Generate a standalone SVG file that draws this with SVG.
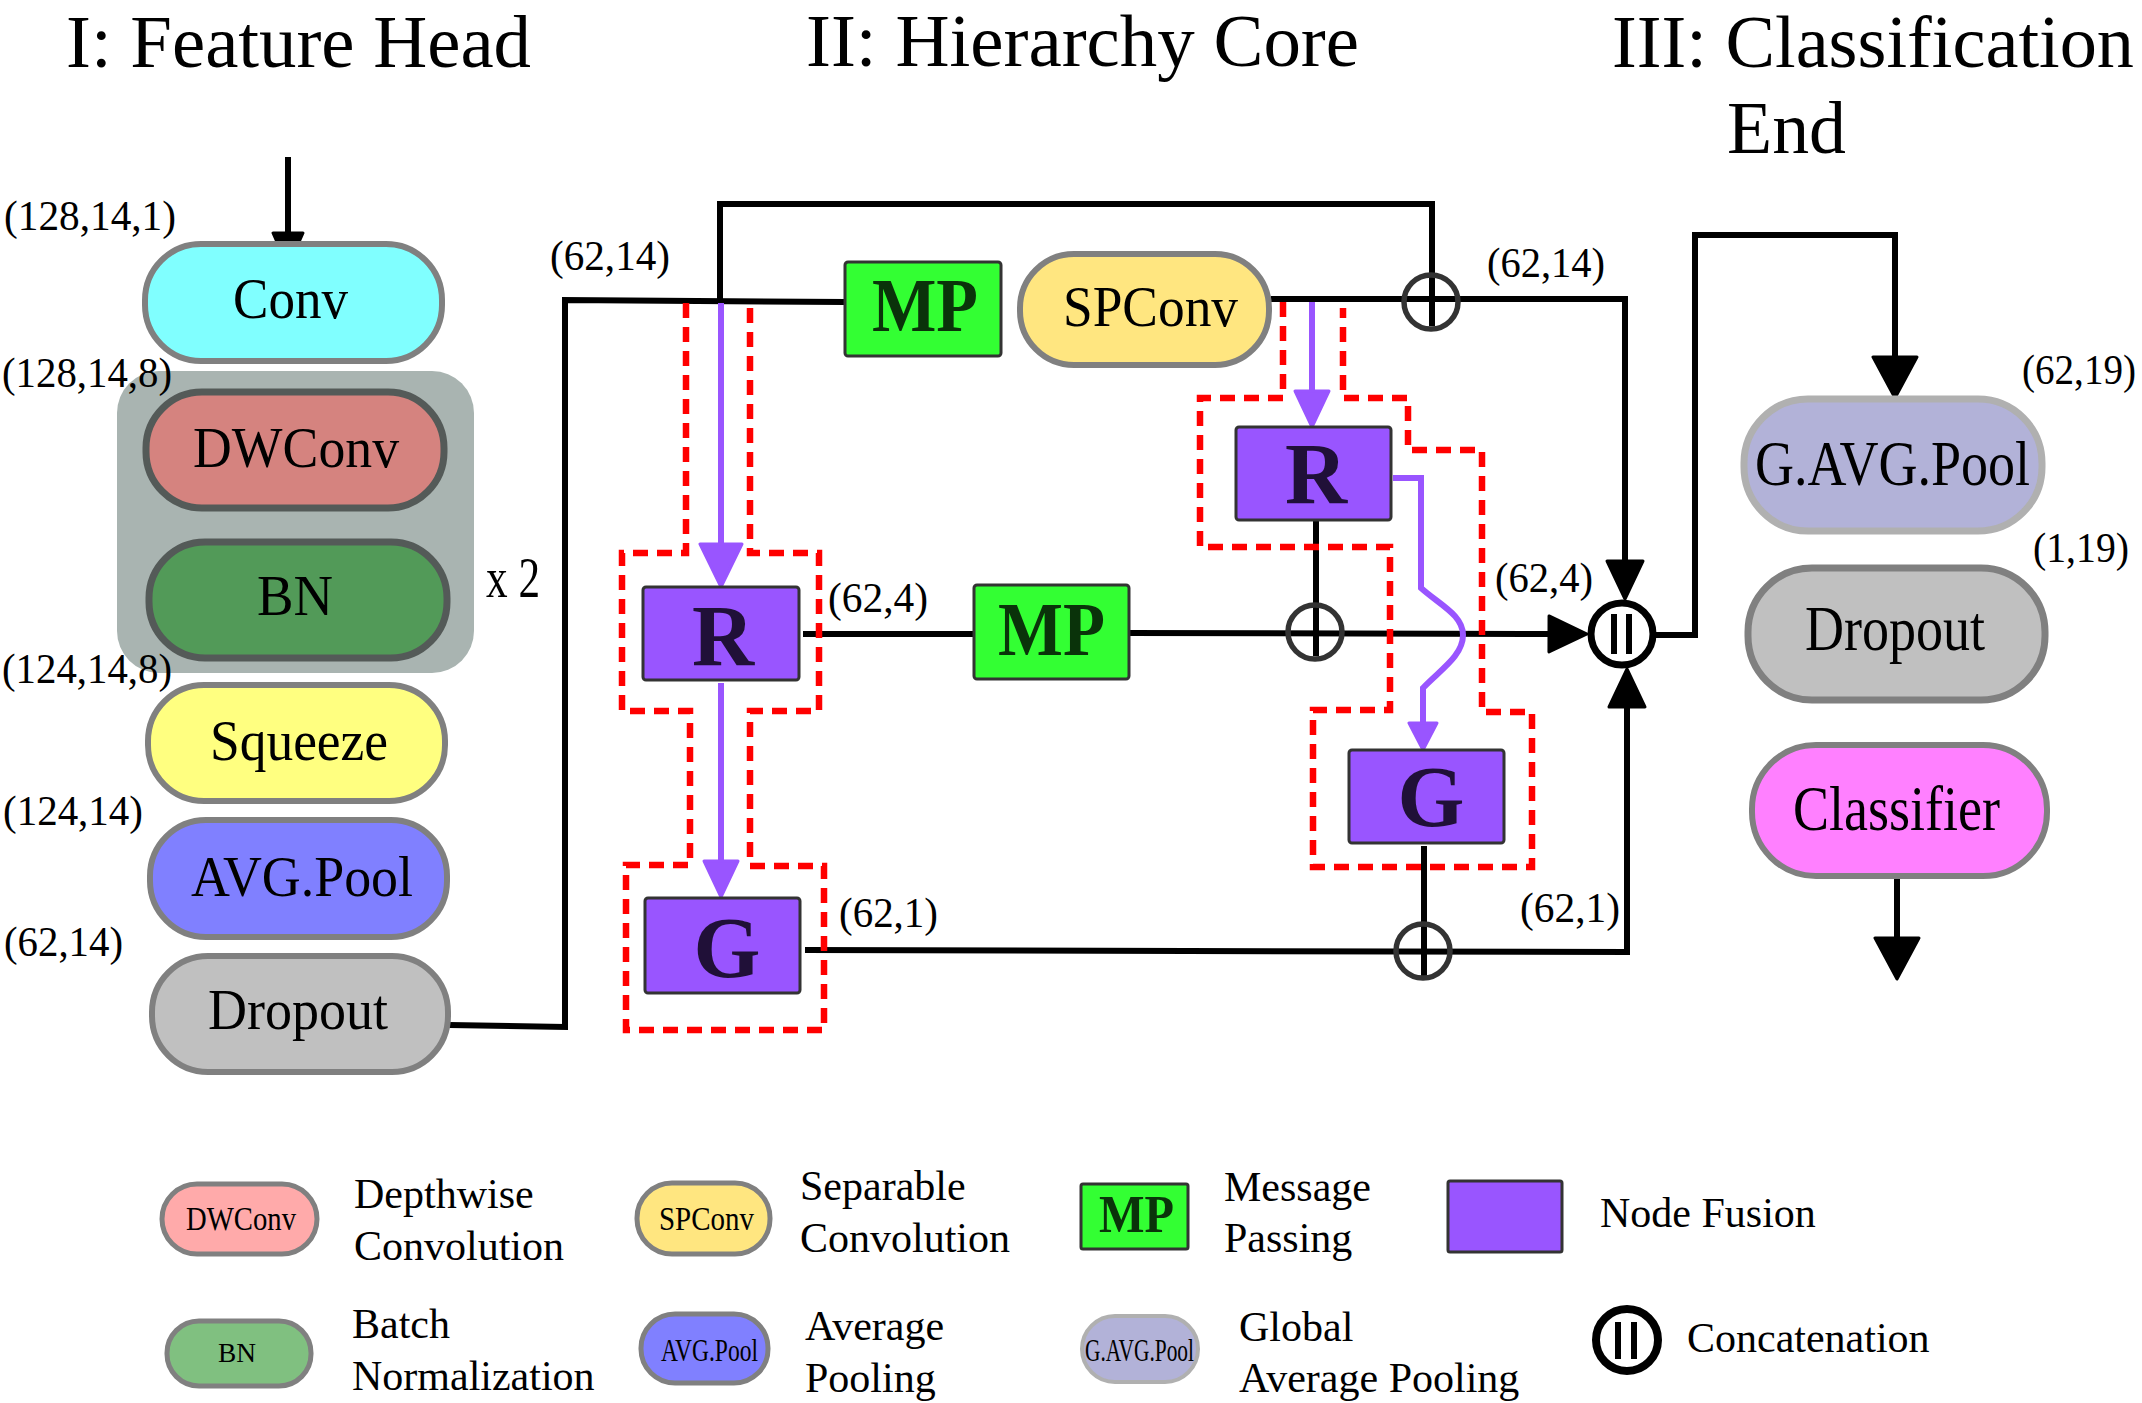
<svg xmlns="http://www.w3.org/2000/svg" width="2142" height="1403" viewBox="0 0 2142 1403">
<style>
text { font-family: "Liberation Serif", "Times New Roman", serif; fill: #000; }
.title { font-size: 74px; }
.dim { font-size: 42px; }
.nl { font-size: 57px; }
.nr { font-size: 63px; }
.leg { font-size: 42px; }
.pill { stroke: #808080; stroke-width: 6; }
.pilld { stroke: #545a58; stroke-width: 7; }
.conn { fill: none; stroke: #000; stroke-width: 6; }
.pur { fill: none; stroke: #9955ff; stroke-width: 6; }
.red { fill: none; stroke: #ff0000; stroke-width: 6.5; stroke-dasharray: 15 9; }
.nf { fill: #9955ff; stroke: #333; stroke-width: 3; }
.mp { fill: #33ff33; stroke: #333; stroke-width: 3; }
.plus { fill: none; stroke: #333; stroke-width: 5.5; }
.mpt { font-weight: bold; fill: #0a330a; }
.nft { font-weight: bold; font-size: 86px; fill: #201038; }
</style>
<defs>
<marker id="ak" markerUnits="userSpaceOnUse" viewBox="0 0 44 40" markerWidth="44" markerHeight="40" refX="33" refY="20" orient="auto"><path d="M2,2 L40,20 L2,38 Z" fill="#000" stroke="#000" stroke-width="3" stroke-linejoin="round"/></marker>
<marker id="akS" markerUnits="userSpaceOnUse" viewBox="0 0 40 34" markerWidth="40" markerHeight="34" refX="30" refY="17" orient="auto"><path d="M2,2 L36,17 L2,32 Z" fill="#000" stroke="#000" stroke-width="3" stroke-linejoin="round"/></marker>
<marker id="akL" markerUnits="userSpaceOnUse" viewBox="0 0 48 48" markerWidth="48" markerHeight="48" refX="37" refY="24" orient="auto"><path d="M2,2 L43,24 L2,46 Z" fill="#000" stroke="#000" stroke-width="3" stroke-linejoin="round"/></marker>
<marker id="apL" markerUnits="userSpaceOnUse" viewBox="0 0 48 46" markerWidth="48" markerHeight="46" refX="39" refY="23" orient="auto"><path d="M2,2 L45,23 L2,44 Z" fill="#9955ff" stroke="#9955ff" stroke-width="3" stroke-linejoin="round"/></marker>
<marker id="ap" markerUnits="userSpaceOnUse" viewBox="0 0 40 38" markerWidth="40" markerHeight="38" refX="32" refY="19" orient="auto"><path d="M2,2 L38,19 L2,36 Z" fill="#9955ff" stroke="#9955ff" stroke-width="3" stroke-linejoin="round"/></marker>
<marker id="apS" markerUnits="userSpaceOnUse" viewBox="0 0 32 32" markerWidth="32" markerHeight="32" refX="23" refY="16" orient="auto"><path d="M2,2 L29,16 L2,30 Z" fill="#9955ff" stroke="#9955ff" stroke-width="3" stroke-linejoin="round"/></marker>
</defs>
<rect width="2142" height="1403" fill="#fff"/>

<g id="titles">
<text class="title" x="66" y="67" textLength="465" lengthAdjust="spacingAndGlyphs">I: Feature Head</text>
<text class="title" x="806" y="66" textLength="553" lengthAdjust="spacingAndGlyphs">II: Hierarchy Core</text>
<text class="title" x="1612" y="67" textLength="522" lengthAdjust="spacingAndGlyphs">III: Classification</text>
<text class="title" x="1727" y="153" textLength="119" lengthAdjust="spacingAndGlyphs">End</text>
</g>

<g id="connectors">
<path class="conn" d="M288,157 V261" marker-end="url(#akS)"/>
<path class="conn" d="M449,1025 L565,1027 V300 L846,302"/>
<path class="conn" d="M720,301 V204 H1432 V326"/>
<path class="conn" d="M1271,299 H1625 V592" marker-end="url(#ak)"/>
<path class="conn" d="M803,634 H973"/>
<path class="conn" d="M1129,633 L1580,634" marker-end="url(#ak)"/>
<path class="conn" d="M1316,521 V656"/>
<path class="conn" d="M805,950 L1627,952 V676" marker-end="url(#ak)"/>
<path class="conn" d="M1424,846 V976"/>
<path class="conn" d="M1655,635 H1695 V235 H1895 V392" marker-end="url(#akL)"/>
<path class="conn" d="M1897,876 V973" marker-end="url(#akL)"/>
</g>

<g id="fusion-regions">
<path class="red" d="M686,303 V553 H622 V711 H690 V865 H626 V1030 H824 V866 H750 V711 H819 V553 H750 V308"/>
<path class="red" d="M1283,302 V398 H1200 V547 H1390 V710 H1313 V867 H1532 V712 H1482 V450 H1408 V398 H1343 V308"/>
</g>

<g id="fusion-flows">
<path class="pur" d="M721,303 V581" marker-end="url(#apL)"/>
<path class="pur" d="M721,683 V891" marker-end="url(#ap)"/>
<path class="pur" d="M1312,302 V421" marker-end="url(#ap)"/>
<path class="pur" d="M1393,478 H1421 V588 C1440,605 1463,615 1463,635 C1463,656 1440,670 1423,688 V744" marker-end="url(#apS)"/>
</g>

<g id="repeat-block">
<rect x="117" y="371" width="357" height="302" rx="42" fill="#a9b4b1"/>
<text x="486" y="597" style="font-size:56px" textLength="54" lengthAdjust="spacingAndGlyphs">x 2</text>
</g>

<g id="node-conv">
<rect class="pill" x="145" y="244" width="297" height="117" rx="56" fill="#80ffff"/>
<text class="nl" x="233" y="318" textLength="115" lengthAdjust="spacingAndGlyphs">Conv</text>
</g>
<g id="node-dwconv">
<rect class="pilld" x="146" y="392" width="298" height="116" rx="56" fill="#d5837f"/>
<text class="nl" x="193" y="467" textLength="206" lengthAdjust="spacingAndGlyphs">DWConv</text>
</g>
<g id="node-bn">
<rect class="pilld" x="149" y="542" width="298" height="116" rx="56" fill="#529a58"/>
<text class="nl" x="257" y="615" textLength="76" lengthAdjust="spacingAndGlyphs">BN</text>
</g>
<g id="node-squeeze">
<rect class="pill" x="148" y="685" width="297" height="116" rx="56" fill="#ffff80"/>
<text class="nl" x="210" y="760" textLength="178" lengthAdjust="spacingAndGlyphs">Squeeze</text>
</g>
<g id="node-avgpool">
<rect class="pill" x="150" y="820" width="297" height="117" rx="56" fill="#8080ff"/>
<text class="nl" x="191" y="896" textLength="222" lengthAdjust="spacingAndGlyphs">AVG.Pool</text>
</g>
<g id="node-dropout1">
<rect class="pill" x="152" y="956" width="296" height="116" rx="56" fill="#c0c0c0"/>
<text class="nl" x="208" y="1029" textLength="180" lengthAdjust="spacingAndGlyphs">Dropout</text>
</g>

<g id="node-mp1">
<rect class="mp" x="845" y="262" width="156" height="94" rx="3"/>
<text class="mpt" x="872" y="331" style="font-size:76px" textLength="106" lengthAdjust="spacingAndGlyphs">MP</text>
</g>
<g id="node-spconv">
<rect class="pill" x="1020" y="254" width="249" height="111" rx="54" fill="#ffe680"/>
<text class="nl" x="1063" y="326" style="font-size:58px" textLength="175" lengthAdjust="spacingAndGlyphs">SPConv</text>
</g>
<g id="node-mp2">
<rect class="mp" x="974" y="585" width="155" height="94" rx="3"/>
<text class="mpt" x="998" y="655" style="font-size:76px" textLength="107" lengthAdjust="spacingAndGlyphs">MP</text>
</g>

<g id="node-r1">
<rect class="nf" x="643" y="587" width="156" height="93" rx="3"/>
<text class="nft" x="723" y="665" text-anchor="middle">R</text>
</g>
<g id="node-g1">
<rect class="nf" x="645" y="898" width="155" height="95" rx="3"/>
<text class="nft" x="727" y="977" text-anchor="middle">G</text>
</g>
<g id="node-r2">
<rect class="nf" x="1236" y="427" width="155" height="93" rx="3"/>
<text class="nft" x="1316" y="503" text-anchor="middle">R</text>
</g>
<g id="node-g2">
<rect class="nf" x="1349" y="750" width="155" height="93" rx="3"/>
<text class="nft" x="1431" y="826" text-anchor="middle">G</text>
</g>

<g id="add-top"><circle class="plus" cx="1431" cy="302" r="27"/></g>
<g id="add-mid"><circle class="plus" cx="1315" cy="632" r="27"/></g>
<g id="add-bottom"><circle class="plus" cx="1423" cy="951" r="27"/></g>

<g id="concat">
<circle cx="1622" cy="634" r="31" fill="#fff" stroke="#000" stroke-width="7"/>
<rect x="1611" y="614" width="6" height="40" fill="#000"/>
<rect x="1626" y="614" width="6" height="40" fill="#000"/>
</g>

<g id="node-gavgpool">
<rect x="1744" y="399" width="298" height="132" rx="64" fill="#b2b2d8" stroke="#b0b0b0" stroke-width="7"/>
<text class="nr" x="1755" y="485" textLength="275" lengthAdjust="spacingAndGlyphs">G.AVG.Pool</text>
</g>
<g id="node-dropout2">
<rect class="pill" x="1748" y="568" width="297" height="132" rx="64" fill="#c0c0c0" style="stroke-width:7"/>
<text class="nr" x="1805" y="650" textLength="180" lengthAdjust="spacingAndGlyphs">Dropout</text>
</g>
<g id="node-classifier">
<rect class="pill" x="1752" y="745" width="295" height="131" rx="64" fill="#ff80ff"/>
<text class="nr" x="1793" y="830" textLength="207" lengthAdjust="spacingAndGlyphs">Classifier</text>
</g>

<g id="dims">
<text class="dim" x="4" y="230" textLength="172" lengthAdjust="spacingAndGlyphs">(128,14,1)</text>
<text class="dim" x="2" y="387" textLength="170" lengthAdjust="spacingAndGlyphs">(128,14,8)</text>
<text class="dim" x="2" y="683" textLength="170" lengthAdjust="spacingAndGlyphs">(124,14,8)</text>
<text class="dim" x="3" y="825" textLength="140" lengthAdjust="spacingAndGlyphs">(124,14)</text>
<text class="dim" x="4" y="956" textLength="119" lengthAdjust="spacingAndGlyphs">(62,14)</text>
<text class="dim" x="550" y="270" textLength="120" lengthAdjust="spacingAndGlyphs">(62,14)</text>
<text class="dim" x="1487" y="277" textLength="118" lengthAdjust="spacingAndGlyphs">(62,14)</text>
<text class="dim" x="828" y="612" textLength="100" lengthAdjust="spacingAndGlyphs">(62,4)</text>
<text class="dim" x="1495" y="592" textLength="98" lengthAdjust="spacingAndGlyphs">(62,4)</text>
<text class="dim" x="839" y="927" textLength="99" lengthAdjust="spacingAndGlyphs">(62,1)</text>
<text class="dim" x="1520" y="922" textLength="100" lengthAdjust="spacingAndGlyphs">(62,1)</text>
<text class="dim" x="2022" y="384" textLength="114" lengthAdjust="spacingAndGlyphs">(62,19)</text>
<text class="dim" x="2033" y="562" textLength="96" lengthAdjust="spacingAndGlyphs">(1,19)</text>
</g>

<g id="legend">
<g id="leg-dwconv">
<rect x="162" y="1184" width="155" height="70" rx="35" fill="#ffaaaa" stroke="#808080" stroke-width="5"/>
<text x="186" y="1230" style="font-size:33px" textLength="110" lengthAdjust="spacingAndGlyphs">DWConv</text>
<text class="leg" x="354" y="1208">Depthwise</text>
<text class="leg" x="354" y="1260">Convolution</text>
</g>
<g id="leg-spconv">
<rect x="637" y="1183" width="133" height="71" rx="35" fill="#ffe680" stroke="#808080" stroke-width="5"/>
<text x="659" y="1230" style="font-size:33px" textLength="95" lengthAdjust="spacingAndGlyphs">SPConv</text>
<text class="leg" x="800" y="1200">Separable</text>
<text class="leg" x="800" y="1252">Convolution</text>
</g>
<g id="leg-mp">
<rect class="mp" x="1081" y="1184" width="107" height="65" rx="2"/>
<text class="mpt" x="1099" y="1232" style="font-size:52px" textLength="75" lengthAdjust="spacingAndGlyphs">MP</text>
<text class="leg" x="1224" y="1201">Message</text>
<text class="leg" x="1224" y="1252">Passing</text>
</g>
<g id="leg-nodefusion">
<rect class="nf" x="1448" y="1181" width="114" height="71" rx="2"/>
<text class="leg" x="1600" y="1227">Node Fusion</text>
</g>
<g id="leg-bn">
<rect x="167" y="1321" width="144" height="65" rx="32" fill="#80c080" stroke="#808080" stroke-width="5"/>
<text x="218" y="1362" style="font-size:28px" textLength="38" lengthAdjust="spacingAndGlyphs">BN</text>
<text class="leg" x="352" y="1338">Batch</text>
<text class="leg" x="352" y="1390">Normalization</text>
</g>
<g id="leg-avgpool">
<rect x="641" y="1314" width="127" height="69" rx="34" fill="#8080ff" stroke="#808080" stroke-width="5"/>
<text x="661" y="1361" style="font-size:32px" textLength="97" lengthAdjust="spacingAndGlyphs">AVG.Pool</text>
<text class="leg" x="805" y="1340">Average</text>
<text class="leg" x="805" y="1392">Pooling</text>
</g>
<g id="leg-gavgpool">
<rect x="1082" y="1316" width="116" height="66" rx="33" fill="#b2b2d8" stroke="#b0b0b0" stroke-width="4"/>
<text x="1085" y="1361" style="font-size:31px" textLength="109" lengthAdjust="spacingAndGlyphs">G.AVG.Pool</text>
<text class="leg" x="1239" y="1341">Global</text>
<text class="leg" x="1239" y="1392">Average Pooling</text>
</g>
<g id="leg-concat">
<circle cx="1627" cy="1340" r="31" fill="#fff" stroke="#000" stroke-width="8"/>
<rect x="1615" y="1322" width="6" height="37" fill="#000"/>
<rect x="1631" y="1322" width="6" height="37" fill="#000"/>
<text class="leg" x="1687" y="1352">Concatenation</text>
</g>
</g>
</svg>
